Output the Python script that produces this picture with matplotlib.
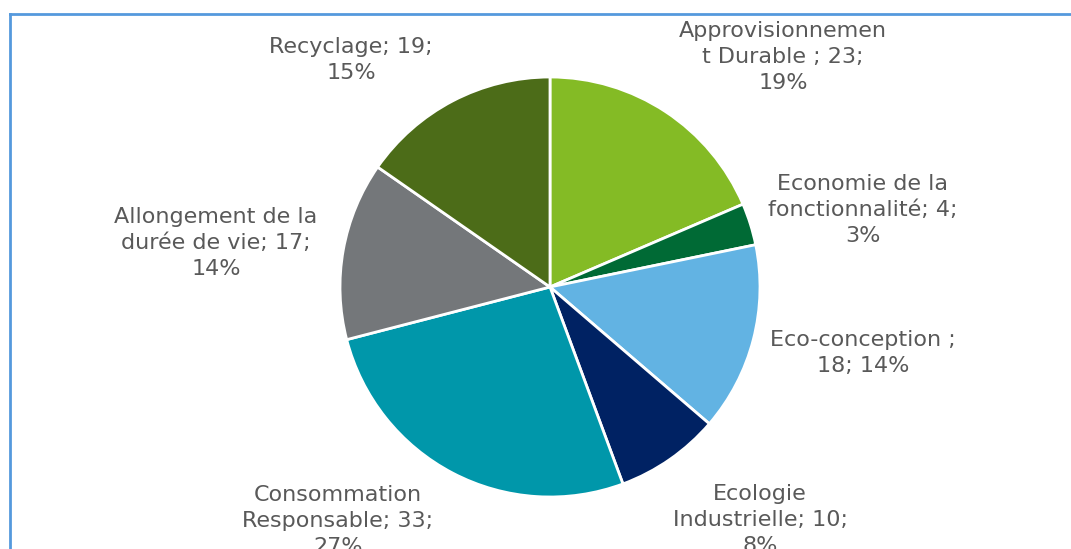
import matplotlib
matplotlib.use("Agg")
import matplotlib.pyplot as plt
from matplotlib.lines import Line2D

# data
categories = [
    "Approvisionnemen\nt Durable",
    "Economie de la\nfonctionnalité",
    "Eco-conception",
    "Ecologie\nIndustrielle",
    "Consommation\nResponsable",
    "Allongement de la\ndurée de vie",
    "Recyclage",
]
values = [23, 4, 18, 10, 33, 17, 19]
percents = [19, 3, 14, 8, 27, 14, 15]
colors = ["#84BB25", "#006A35", "#62B3E3", "#002263", "#0097AA", "#74777A", "#4C6C18"]

# label text as wrapped in the original
label_texts = [
    "Approvisionnemen\nt Durable ; 23;\n19%",
    "Economie de la\nfonctionnalité; 4;\n3%",
    "Eco-conception ;\n18; 14%",
    "Ecologie\nIndustrielle; 10;\n8%",
    "Consommation\nResponsable; 33;\n27%",
    "Allongement de la\ndurée de vie; 17;\n14%",
    "Recyclage; 19;\n15%",
]
# label centres, in pie radius units
label_pos = [(1.11, 1.095), (1.49, 0.367), (1.49, -0.314), (1.0, -1.11),
             (-1.01, -1.114), (-1.59, 0.21), (-0.948, 1.081)]

W, H = 1071, 549
cx, cy, R = 550, 287, 210

fig = plt.figure(figsize=(W / 100, H / 100), dpi=100)
ax = fig.add_axes([0, 0, 1, 1])

ax.pie(values, colors=colors, startangle=90, counterclock=False, radius=1,
       wedgeprops=dict(edgecolor="white", linewidth=2))

for txt, (x, y) in zip(label_texts, label_pos):
    ax.text(x, y, txt, ha="center", va="center", fontsize=16, color="#595959",
            linespacing=1.38, family="DejaVu Sans")

ax.set_xlim(-cx / R, (W - cx) / R)
ax.set_ylim(-(H - cy) / R, cy / R)
ax.set_aspect("auto")
ax.axis("off")

# blue frame of the chart area (top and left visible)
fx = lambda px: px / W
fy = lambda py: 1 - py / H
fig.add_artist(Line2D([fx(10), fx(W)], [fy(14), fy(14)], color="#5599DD", lw=2))
fig.add_artist(Line2D([fx(10), fx(10)], [fy(14), fy(H)], color="#5599DD", lw=2))

fig.savefig("out.png", dpi=100, facecolor="white")
